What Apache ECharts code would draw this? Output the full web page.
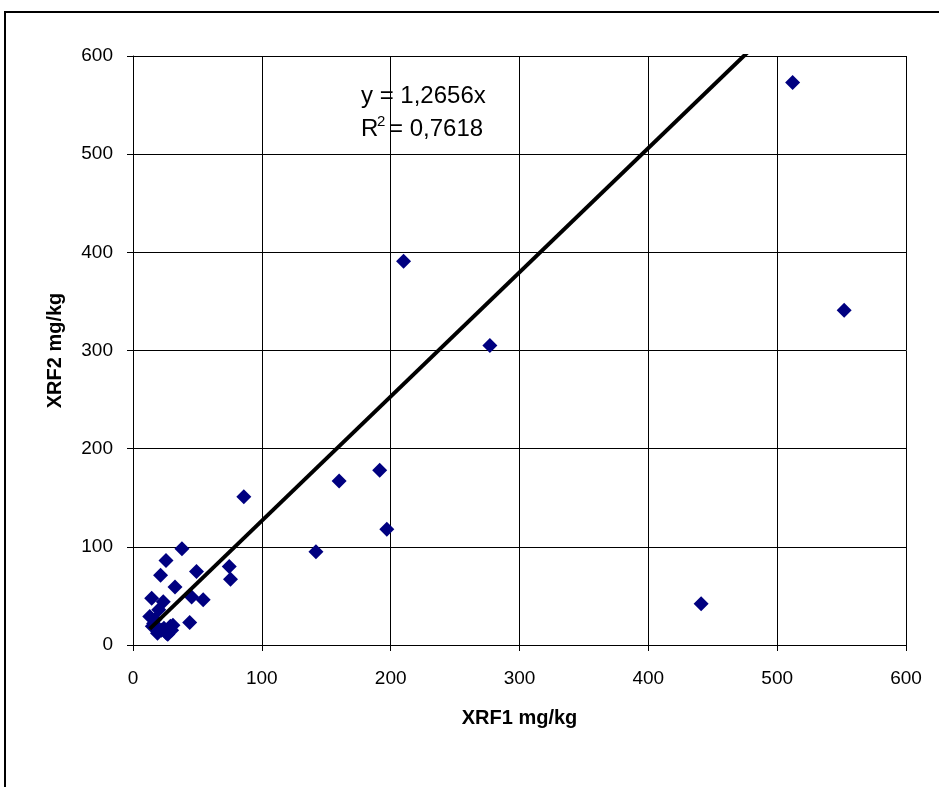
<!DOCTYPE html>
<html>
<head>
<meta charset="utf-8">
<title>XRF1 vs XRF2</title>
<script src="https://cdn.jsdelivr.net/npm/echarts@6/dist/echarts.min.js"></script>
<style>
    html, body { margin: 0; padding: 0; background: #fff; }
    #chart { width: 939px; height: 787px; }
</style>
</head>
<body>
<div id="chart"></div>
<script>
// XRF1 / XRF2 mittaukset (mg/kg)
var xrf1 = [13, 15, 17, 20, 22, 26, 29, 31, 19, 24, 27, 16, 30,
            14.5, 23.5, 21.4, 25.6, 38, 32.6, 45.5, 49.3, 54.5, 44, 74.7, 75.7,
            86, 142, 160, 191.5, 197, 210, 277, 441, 512, 552];
var xrf2 = [29, 19, 26, 36, 15, 12, 19, 20, 12, 17, 11, 22, 15,
            47.5, 44, 71, 86, 98, 59, 49, 75, 46, 23, 80, 67,
            151, 95, 167, 178, 118, 391, 305, 42, 573, 341];

// trendiviiva y = 1,2656x
var slope = 1.2656;
var eqText = 'y = 1,2656x';
var r2 = '0,7618';
var ticks = [0, 100, 200, 300, 400, 500, 600];

var font = '"Liberation Sans", Arial, sans-serif';

var points = xrf1.map(function (x, i) { return [x, xrf2[i]]; });
var xMin = Math.min.apply(null, xrf1);
var xMax = Math.max.apply(null, xrf1);
var trend = [[xMin, slope * xMin], [xMax, slope * xMax]];

var chart = echarts.init(document.getElementById('chart'));

chart.setOption({
    animation: false,
    backgroundColor: '#fff',
    grid: { left: 133, right: 33, top: 56, bottom: 142 },
    xAxis: {
        type: 'value',
        min: ticks[0],
        max: ticks[ticks.length - 1],
        interval: 100,
        name: 'XRF1 mg/kg',
        nameLocation: 'middle',
        nameGap: 63,
        nameTextStyle: { color: '#000', fontSize: 20, fontWeight: 'bold', fontFamily: font },
        axisLine: { lineStyle: { color: '#000', width: 1 } },
        axisTick: { show: true, length: 6, lineStyle: { color: '#000' } },
        axisLabel: { color: '#000', fontSize: 19, fontFamily: font, margin: 24 },
        splitLine: { show: true, lineStyle: { color: '#000', width: 1 } }
    },
    yAxis: {
        type: 'value',
        min: ticks[0],
        max: ticks[ticks.length - 1],
        interval: 100,
        name: 'XRF2 mg/kg',
        nameLocation: 'middle',
        nameGap: 68,
        nameTextStyle: { color: '#000', fontSize: 20, fontWeight: 'bold', fontFamily: font },
        axisLine: { show: true, lineStyle: { color: '#000', width: 1 } },
        axisTick: { show: true, length: 6, lineStyle: { color: '#000' } },
        axisLabel: { color: '#000', fontSize: 19, fontFamily: font, margin: 20 },
        splitLine: { show: true, lineStyle: { color: '#000', width: 1 } }
    },
    graphic: [
        {
            type: 'rect',
            shape: { x: 5, y: 12, width: 1000, height: 1000 },
            style: { fill: 'none', stroke: '#000', lineWidth: 2 },
            silent: true
        },
        {
            type: 'text',
            x: 361, y: 96,
            style: { text: eqText, font: '24px ' + font, fill: '#000', align: 'left', verticalAlign: 'middle' },
            z: 100
        },
        {
            type: 'text',
            x: 361, y: 129,
            style: { text: 'R', font: '24px ' + font, fill: '#000', align: 'left', verticalAlign: 'middle' },
            z: 100
        },
        {
            type: 'text',
            x: 377, y: 122,
            style: { text: '2', font: '15px ' + font, fill: '#000', align: 'left', verticalAlign: 'middle' },
            z: 100
        },
        {
            type: 'text',
            x: 389, y: 129,
            style: { text: '= ' + r2, font: '24px ' + font, fill: '#000', align: 'left', verticalAlign: 'middle' },
            z: 100
        }
    ],
    series: [
        {
            type: 'scatter',
            data: points,
            symbol: 'diamond',
            symbolSize: 15,
            itemStyle: { color: '#000080', opacity: 1 }
        },
        {
            type: 'line',
            data: trend,
            showSymbol: false,
            symbol: 'none',
            clip: true,
            lineStyle: { color: '#000', width: 4 },
            z: 5
        }
    ]
});
</script>
</body>
</html>
